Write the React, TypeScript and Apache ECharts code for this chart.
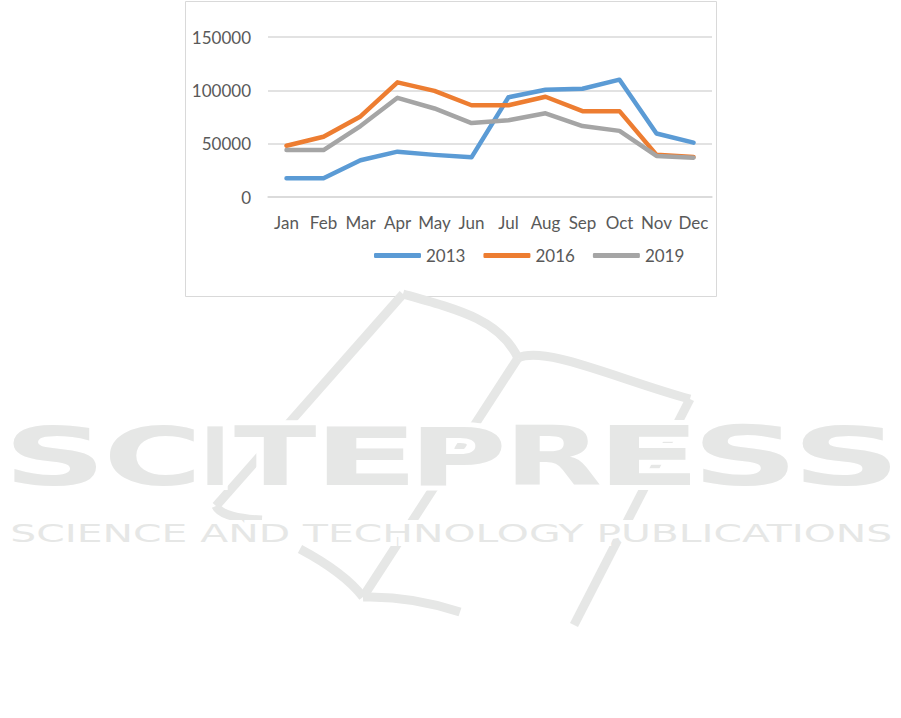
import React, { useEffect, useRef } from "react";
import * as echarts from "echarts";

const months = ["Jan", "Feb", "Mar", "Apr", "May", "Jun", "Jul", "Aug", "Sep", "Oct", "Nov", "Dec"];
const seriesNames = ["2013", "2016", "2019"];
const values2013 = [17500, 17500, 34500, 42500, 39500, 37200, 93500, 100500, 101500, 110000, 59500, 51000];
const values2016 = [48000, 56500, 75500, 107500, 99500, 86000, 86000, 94000, 80500, 80500, 39500, 37500];
const values2019 = [44000, 44000, 66500, 93000, 83000, 69300, 72000, 78500, 66500, 62000, 38500, 36800];
const yMin = 0;
const yMax = 150000;
const yInterval = 50000;
const seriesColors = ["#5B9BD5", "#ED7D31", "#A5A5A5"];

const watermarkTitle = "SCITEPRESS";
const watermarkSubtitle = "SCIENCE AND TECHNOLOGY PUBLICATIONS";

const LABEL_FONT = "Lato, 'Open Sans', sans-serif";
const TEXT_COLOR = "#595959";
const GRID_COLOR = "#d9d9d9";
const WM_COLOR = "#e6e7e6";

function buildWatermark(): any[] {
  const els: any[] = [];
  const ctx = document.createElement("canvas").getContext("2d") as CanvasRenderingContext2D;
  const strokeStyle = { stroke: WM_COLOR, lineWidth: 9, fill: null };
  // book outline
  els.push({ type: "line", shape: { x1: 403, y1: 294, x2: 216, y2: 506 }, style: strokeStyle });
  els.push({ type: "bezierCurve", shape: { x1: 216, y1: 506, cpx1: 220, cpy1: 515, cpx2: 240, cpy2: 519, x2: 262, y2: 520 }, style: strokeStyle });
  els.push({ type: "bezierCurve", shape: { x1: 403, y1: 294, cpx1: 460, cpy1: 310, cpx2: 500, cpy2: 320, x2: 518, y2: 358 }, style: strokeStyle });
  els.push({ type: "bezierCurve", shape: { x1: 518, y1: 358, cpx1: 545, cpy1: 345, cpx2: 620, cpy2: 380, x2: 690, y2: 399 }, style: strokeStyle });
  els.push({ type: "line", shape: { x1: 518, y1: 358, x2: 363, y2: 597 }, style: strokeStyle });
  els.push({ type: "line", shape: { x1: 690, y1: 399, x2: 574, y2: 625 }, style: strokeStyle });
  els.push({ type: "bezierCurve", shape: { x1: 300, y1: 549, cpx1: 330, cpy1: 565, cpx2: 350, cpy2: 580, x2: 363, y2: 597 }, style: strokeStyle });
  els.push({ type: "bezierCurve", shape: { x1: 363, y1: 597, cpx1: 400, cpy1: 596, cpx2: 430, cpy2: 602, x2: 460, y2: 612 }, style: strokeStyle });

  // big letters
  const boxes = [
    [12, 97], [110, 195], [207, 223], [234, 316], [326, 409],
    [420, 503], [515, 600], [609, 691], [701, 789], [801, 891],
  ];
  const bigFs = 81;
  const bigFont = `bold ${bigFs}px "DejaVu Sans"`;
  ctx.font = bigFont;
  const letterEls: any[] = [];
  watermarkTitle.split("").forEach((ch, i) => {
    const m = ctx.measureText(ch);
    const ink = m.actualBoundingBoxLeft + m.actualBoundingBoxRight;
    const [l, r] = boxes[i];
    const sx = (r - l) / ink;
    const x = l + m.actualBoundingBoxLeft * sx;
    letterEls.push({ ch, x, sx });
  });
  const smallFs = 25;
  const smallFont = `${smallFs}px "DejaVu Sans"`;
  ctx.font = smallFont;
  const sm = ctx.measureText(watermarkSubtitle);
  const sInk = sm.actualBoundingBoxLeft + sm.actualBoundingBoxRight;
  const ssx = (891 - 12) / sInk;
  const sX = 12 + sm.actualBoundingBoxLeft * ssx;

  // white halo layer
  letterEls.forEach((le) => {
    els.push({
      type: "text", x: le.x, y: 457, scaleX: le.sx, silent: true,
      style: { text: le.ch, fontSize: bigFs, fontWeight: "bold", fontFamily: "DejaVu Sans", fill: "#ffffff", stroke: "#ffffff", lineWidth: 10, align: "left", verticalAlign: "middle" },
    });
  });
  els.push({
    type: "text", x: sX, y: 534, scaleX: ssx, silent: true,
    style: { text: watermarkSubtitle, fontSize: smallFs, fontFamily: "DejaVu Sans", fill: "#ffffff", stroke: "#ffffff", lineWidth: 8, align: "left", verticalAlign: "middle" },
  });
  // grey layer
  letterEls.forEach((le) => {
    els.push({
      type: "text", x: le.x, y: 457, scaleX: le.sx, silent: true,
      style: { text: le.ch, fontSize: bigFs, fontWeight: "bold", fontFamily: "DejaVu Sans", fill: WM_COLOR, align: "left", verticalAlign: "middle" },
    });
  });
  els.push({
    type: "text", x: sX, y: 534, scaleX: ssx, silent: true,
    style: { text: watermarkSubtitle, fontSize: smallFs, fontFamily: "DejaVu Sans", fill: WM_COLOR, align: "left", verticalAlign: "middle" },
  });
  return els;
}

export default function App() {
  const ref = useRef<HTMLDivElement>(null);
  useEffect(() => {
    if (!ref.current) return;
    const chart = echarts.init(ref.current, null, { renderer: "svg" });
    const seriesData = [values2013, values2016, values2019];
    const option: any = {
      animation: false,
      backgroundColor: "#ffffff",
      graphic: [
        {
          type: "rect",
          shape: { x: 185.5, y: 1.5, width: 531, height: 295 },
          style: { fill: "#ffffff", stroke: GRID_COLOR, lineWidth: 1 },
          z: -10,
          silent: true,
        },
        ...buildWatermark(),
      ],
      grid: { left: 268, right: 189, top: 37, bottom: 521 },
      legend: {
        data: seriesNames,
        left: 369,
        top: 242,
        icon: "roundRect",
        itemWidth: 47,
        itemHeight: 5,
        itemGap: 18,
        textStyle: { color: TEXT_COLOR, fontSize: 17, fontFamily: LABEL_FONT },
      },
      xAxis: {
        type: "category",
        data: months,
        boundaryGap: true,
        axisLine: { show: true, lineStyle: { color: GRID_COLOR, width: 1.5 } },
        axisTick: { show: false },
        axisLabel: { interval: 0, color: TEXT_COLOR, fontSize: 17, fontFamily: LABEL_FONT, margin: 17 },
      },
      yAxis: {
        type: "value",
        min: yMin,
        max: yMax,
        interval: yInterval,
        axisLine: { show: false },
        axisTick: { show: false },
        splitLine: { lineStyle: { color: GRID_COLOR, width: 1.5 } },
        axisLabel: { color: TEXT_COLOR, fontSize: 17, fontFamily: LABEL_FONT, margin: 17, formatter: (v: number) => String(v) },
      },
      series: seriesNames.map((name, i) => ({
        name,
        type: "line",
        data: seriesData[i],
        showSymbol: false,
        symbol: "none",
        color: seriesColors[i],
        lineStyle: { width: 4.5, color: seriesColors[i], cap: "round", join: "round" },
        z: 3 + i,
      })),
    };
    chart.setOption(option);
    return () => chart.dispose();
  }, []);
  return (
    <div
      ref={ref}
      style={{ position: "absolute", left: 0, top: 0, width: 901, height: 718, background: "#fff" }}
    />
  );
}
